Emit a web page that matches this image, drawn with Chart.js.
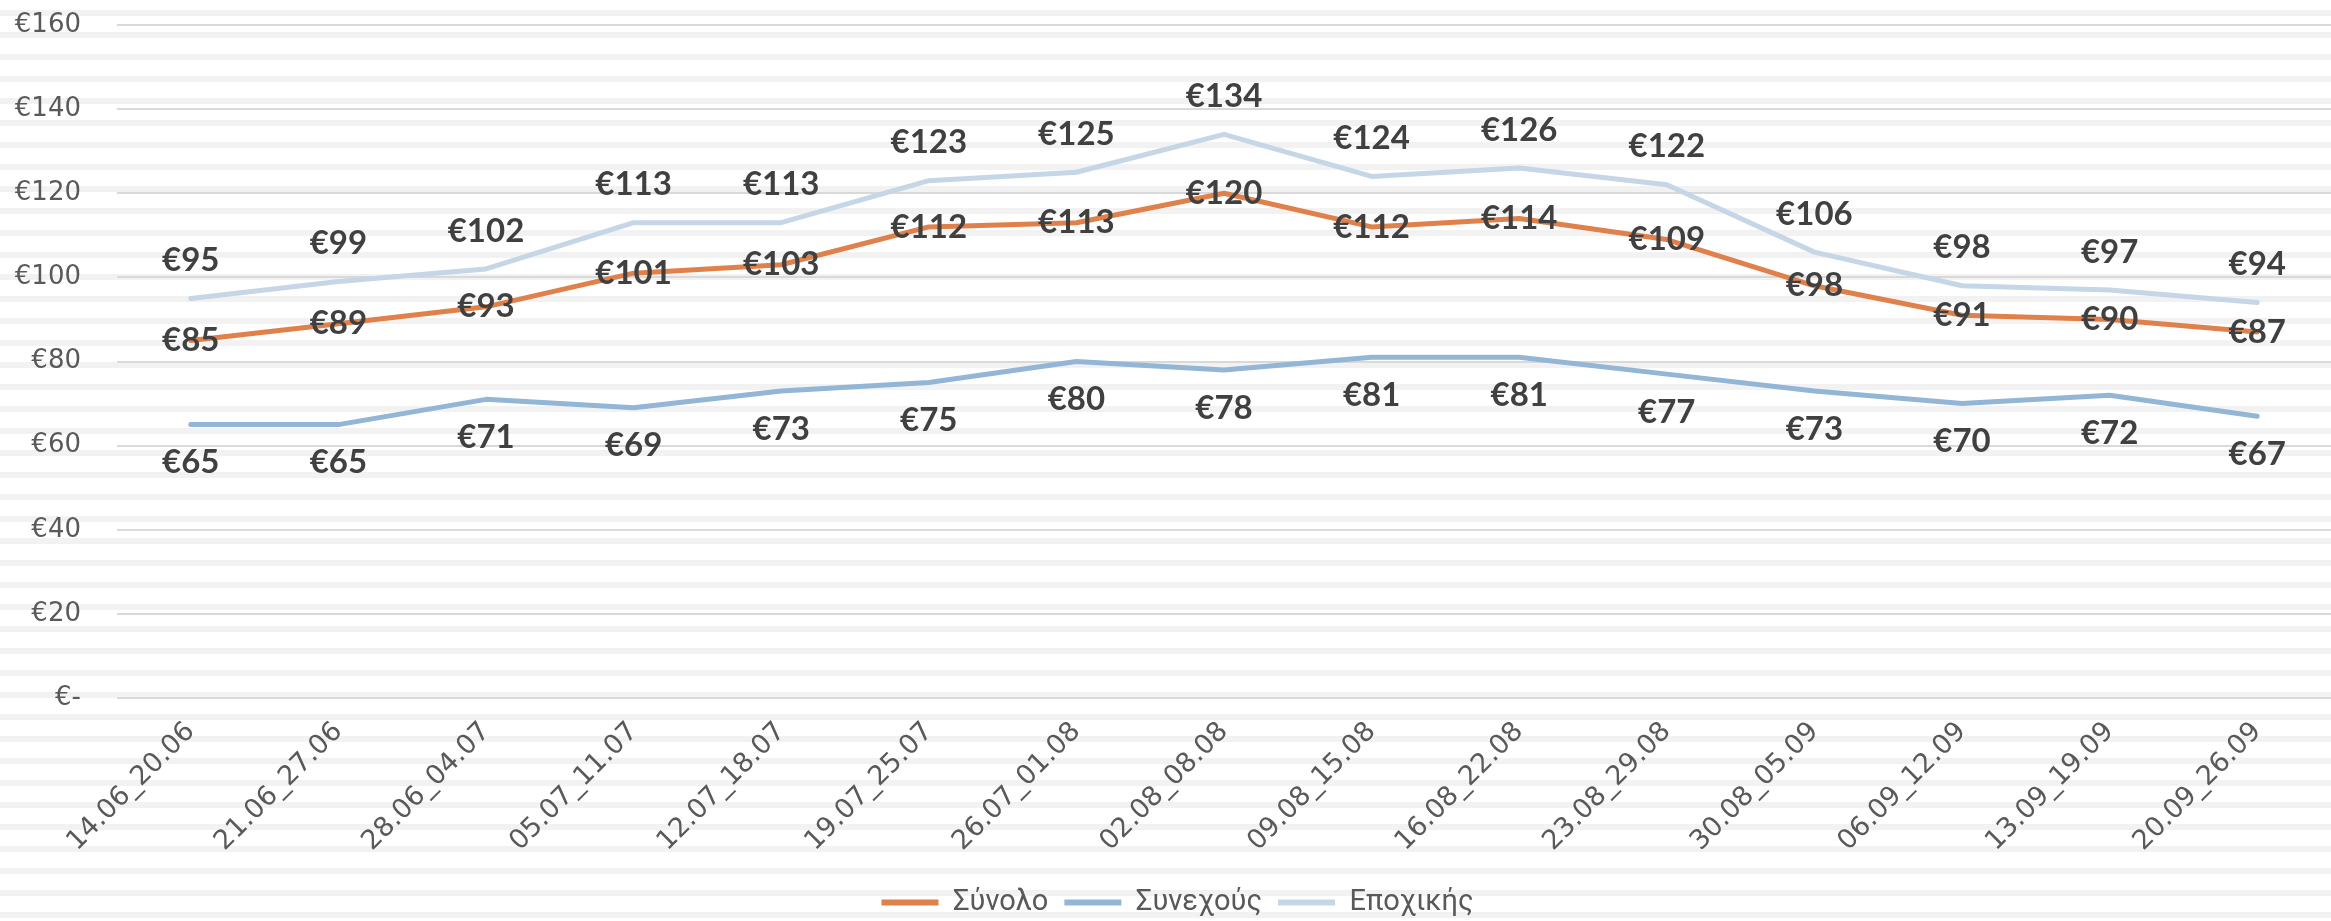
<!DOCTYPE html>
<html>
<head>
<meta charset="utf-8">
<script src="https://cdn.jsdelivr.net/npm/chart.js@4"></script>
<style>
  html, body { margin: 0; padding: 0; background: #ffffff; }
  #wrap { width: 2331px; height: 921px; position: relative; }
</style>
</head>
<body>
<div id="wrap"><canvas id="c" width="2331" height="921"></canvas></div>
<script>
const categories = ['14.06_20.06','21.06_27.06','28.06_04.07','05.07_11.07','12.07_18.07','19.07_25.07','26.07_01.08','02.08_08.08','09.08_15.08','16.08_22.08','23.08_29.08','30.08_05.09','06.09_12.09','13.09_19.09','20.09_26.09'];
const synolo   = [85, 89, 93, 101, 103, 112, 113, 120, 112, 114, 109, 98, 91, 90, 87];
const synexous = [65, 65, 71, 69, 73, 75, 80, 78, 81, 81, 77, 73, 70, 72, 67];
const epoxikis = [95, 99, 102, 113, 113, 123, 125, 134, 124, 126, 122, 106, 98, 97, 94];
const seriesNames = ['Σύνολο', 'Συνεχούς', 'Εποχικής'];
const yTicks = [0, 20, 40, 60, 80, 100, 120, 140, 160];

const colors = ['#E0804A', '#93B5D6', '#C5D6E6'];
const labelOffsets = [0, 38, -38];

const stripes = {
  id: 'stripes',
  beforeDraw(chart) {
    const ctx = chart.ctx;
    ctx.save();
    ctx.fillStyle = '#f2f2f2';
    for (let y = 10; y < chart.height; y += 22) {
      ctx.fillRect(0, y, chart.width, 6);
    }
    ctx.restore();
  }
};

const dataLabels = {
  id: 'dataLabels',
  afterDatasetsDraw(chart) {
    const ctx = chart.ctx;
    ctx.save();
    ctx.font = 'bold 33px Lato';
    ctx.fillStyle = '#404040';
    ctx.textAlign = 'center';
    ctx.textBaseline = 'middle';
    chart.data.datasets.forEach((ds, i) => {
      const meta = chart.getDatasetMeta(i);
      meta.data.forEach((pt, j) => {
        ctx.fillText('€' + ds.data[j], pt.x, pt.y + labelOffsets[i]);
      });
    });
    ctx.restore();
  }
};

const legendShift = {
  id: 'legendShift',
  afterUpdate(chart) {
    const lg = chart.legend;
    if (!lg) return;
    const dx = 12, dy = 6;
    lg.left += dx; lg.right += dx;
    lg.top += dy; lg.bottom += dy;
    if (lg.legendHitBoxes) lg.legendHitBoxes.forEach(h => { h.left += dx; h.top += dy; });
  }
};

new Chart(document.getElementById('c'), {
  type: 'line',
  data: {
    labels: categories,
    datasets: [synolo, synexous, epoxikis].map((d, i) => ({
      label: seriesNames[i],
      data: d,
      borderColor: colors[i],
      backgroundColor: colors[i],
      borderWidth: 5,
      borderCapStyle: 'round',
      borderJoinStyle: 'round',
      pointRadius: 0,
      tension: 0,
      fill: false
    }))
  },
  options: {
    responsive: false,
    animation: false,
    layout: { padding: { top: 25, right: 0, left: 0, bottom: 0 } },
    plugins: {
      legend: {
        position: 'bottom',
        labels: {
          font: { family: 'Roboto', size: 29 },
          color: '#595959',
          boxWidth: 57,
          boxHeight: 6,
          useBorderRadius: true,
          borderRadius: 3,
          padding: 16,
          generateLabels(chart) {
            return chart.data.datasets.map((ds, i) => ({
              text: ds.label,
              fillStyle: ds.borderColor,
              strokeStyle: ds.borderColor,
              lineWidth: 0,
              fontColor: '#595959',
              datasetIndex: i,
              hidden: false
            }));
          }
        }
      },
      tooltip: { enabled: false }
    },
    scales: {
      x: {
        offset: true,
        grid: { display: false, drawTicks: false },
        border: { display: false },
        ticks: {
          autoSkip: false,
          maxRotation: 45,
          minRotation: 45,
          padding: 18,
          color: '#595959',
          font: { family: 'DejaVu Sans', size: 27 }
        },
        afterFit(scale) { scale.height = 168; }
      },
      y: {
        min: 0,
        max: 160,
        afterBuildTicks(scale) { scale.ticks = yTicks.map(v => ({ value: v })); },
        grid: { color: '#d9d9d9', lineWidth: 2, drawTicks: false },
        border: { display: false },
        ticks: {
          padding: 36,
          color: '#595959',
          font: { family: 'DejaVu Sans', size: 26 },
          callback: v => v === 0 ? '€-' : '€' + v
        },
        afterFit(scale) {
          scale.width = 117;
          scale.paddingTop = 12;
          scale.paddingBottom = 12;
        }
      }
    }
  },
  plugins: [stripes, dataLabels, legendShift]
});
</script>
</body>
</html>
